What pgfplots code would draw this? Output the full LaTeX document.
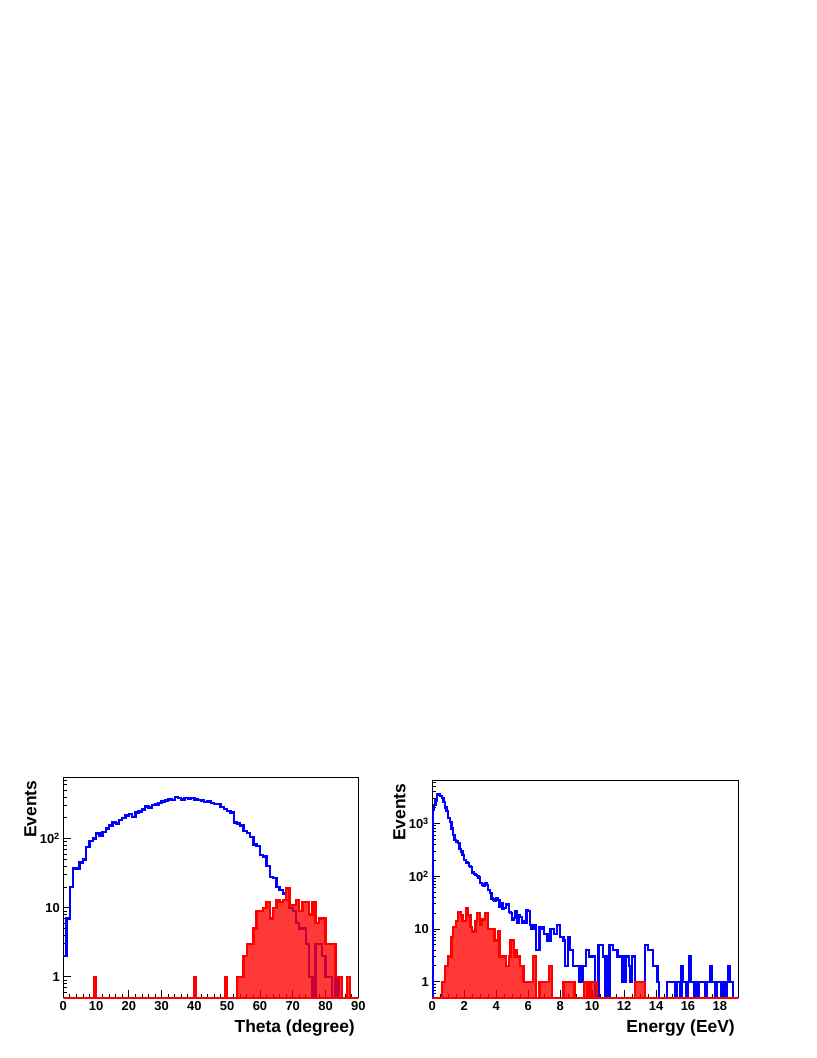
\documentclass[border=0pt]{standalone}
\usepackage{fontspec}
\setmainfont{Liberation Sans}
\usepackage{pgfplots}
\pgfplotsset{compat=1.18}

\pgfplotsset{
  rootaxis/.style={
    scale only axis, log origin y=infty, clip=false,
    ymin=0.5, xmin=0,
    axis line style={line width=0.8bp},
    tick style={line width=0.8bp, black},
    tick align=inside, xtick pos=left, ytick pos=left,
    major tick length=8bp, minor tick length=4bp,
    /pgf/number format/assume math mode=true,
    ticklabel style={font=\fontsize{13}{13}\selectfont\bfseries},
    label style={font=\fontsize{17.5}{17.5}\selectfont\bfseries},
    xlabel style={at={(rel axis cs:1,0)}, anchor=base east, yshift=-35bp},
    ylabel style={at={(rel axis cs:0,1)}, anchor=base east, yshift=27bp},
  },
  hblue/.style={const plot, color=blue, line width=2.4bp, mark=none},
  hred/.style={const plot, draw=red, line width=2.4bp, mark=none, fill=red, fill opacity=0.78, draw opacity=1},
}

\begin{document}
\begin{tikzpicture}
\path[use as bounding box] (0,0) rectangle (817bp,1058bp);

% ---------- left: theta ----------
\begin{axis}[ymode=log, rootaxis,
  at={(63.3bp,60.3bp)}, anchor=south west,
  width=295bp, height=220.4bp,
  xmax=90, ymax=770,
  xtick={0,10,...,90}, minor x tick num=4,
  ytick={1,10,100}, yticklabels={1,10,10\textsuperscript{2}},
  minor ytick={0.6,0.7,0.8,0.9,2,3,4,5,6,7,8,9,20,30,40,50,60,70,80,90,200,300,400,500,600,700},
  xlabel={Theta (degree)}, ylabel={Events},
]
\addplot[hblue] coordinates {
(0,2) (1,7) (2,20) (3,37) (4,36) (5,45) (6,50) (7,75) (8,92) (9,100)
(10,118) (11,108) (12,125) (13,140) (14,155) (15,170) (16,165) (17,185) (18,200) (19,215)
(20,225) (21,205) (22,240) (23,245) (24,265) (25,290) (26,280) (27,305) (28,310) (29,330)
(30,345) (31,355) (32,370) (33,360) (34,400) (35,385) (36,370) (37,390) (38,380) (39,385)
(40,370) (41,365) (42,355) (43,340) (44,345) (45,330) (46,315) (47,315) (48,285) (49,270)
(50,250) (51,240) (52,170) (53,165) (54,155) (55,128) (56,120) (57,105) (58,82) (59,78)
(60,58) (61,55) (62,40) (63,28) (64,27) (65,20) (66,18) (67,16) (68,13) (69,10)
(70,9) (71,6) (72,5) (73,5) (74,3) (75,1) (76,0.5) (77,3) (78,3) (79,2)
(80,1) (81,1) (82,0.5) (83,1) (84,0.5) (90,0.5)
};
\addplot[hred] coordinates {
(0,0.5) (9.5,1) (10,0.5) (40,1) (40.5,0.5) (49.5,1) (50,0.5) (53,1) (55,2) (56,3)
(57,3) (58,5) (59,9) (60,9) (61,10) (62,12) (63,7) (64,10) (65,13) (66,12)
(67,13) (68,19) (69,11) (70,11) (71,13) (72,9) (73,12) (74,12) (75,8) (76,12)
(77,6) (78,7) (79,7) (80,3) (81,3) (82,3) (83,1) (84,1) (85,0.5) (86.5,1)
(87.5,0.5) (90,0.5)
} \closedcycle;
\end{axis}

% ---------- right: energy ----------
\begin{axis}[ymode=log, rootaxis,
  at={(432.3bp,60.3bp)}, anchor=south west,
  width=306bp, height=217.7bp,
  xmax=19.15, ymax=6600,
  xtick={0,2,...,18}, minor x tick num=3,
  ytick={1,10,100,1000}, yticklabels={1,10,10\textsuperscript{2},10\textsuperscript{3}},
  minor ytick={0.6,0.7,0.8,0.9,2,3,4,5,6,7,8,9,20,30,40,50,60,70,80,90,200,300,400,500,600,700,800,900,2000,3000,4000,5000,6000},
  xlabel={Energy (EeV)}, ylabel={Events},
]
\addplot[hblue] coordinates {
(0,0.5) (0.05,1800) (0.1,2200) (0.2,2700) (0.3,3500) (0.4,3600) (0.5,3300) (0.6,3000) (0.7,2500) (0.8,2000) (0.9,1700)
(1.0,1250) (1.1,1050) (1.2,800) (1.3,600) (1.4,480) (1.5,450) (1.6,420) (1.7,330) (1.8,290) (1.9,250)
(2.0,200) (2.1,180) (2.2,175) (2.3,155) (2.4,150) (2.5,118) (2.6,110) (2.7,104) (2.8,100) (2.9,95)
(3.0,75) (3.1,70) (3.2,66) (3.3,72) (3.4,68) (3.5,55) (3.6,48) (3.7,38) (3.8,36) (3.9,34)
(4.0,38) (4.1,35) (4.2,26) (4.3,31) (4.4,24) (4.5,25) (4.6,30) (4.7,29) (4.8,21) (4.9,20)
(5.0,15) (5.1,16) (5.2,22) (5.3,13) (5.4,18) (5.5,17) (5.6,13) (5.7,14) (5.8,13) (5.9,23)
(6.0,22) (6.1,12) (6.2,10) (6.3,10) (6.4,12) (6.5,4) (6.6,4) (6.7,11) (6.8,10) (6.9,11)
(7.0,8) (7.1,8) (7.2,6) (7.3,6) (7.4,10) (7.5,10) (7.6,8) (7.7,8) (7.8,12) (7.9,12)
(8.0,7) (8.1,7) (8.2,6) (8.3,2) (8.4,2) (8.5,7) (8.6,4) (8.7,4) (8.8,2) (8.9,2)
(9.0,2) (9.1,2) (9.2,1) (9.3,1) (9.4,2) (9.5,2) (9.6,4) (9.7,4) (9.8,3) (9.9,3)
(10.0,3) (10.1,3) (10.2,0.5) (10.3,0.5) (10.4,5) (10.5,5) (10.6,5) (10.7,3) (10.8,0.5) (10.9,3)
(11.0,0.5) (11.1,5) (11.2,5) (11.3,4) (11.4,4) (11.5,4) (11.6,3) (11.7,3) (11.8,3) (11.9,1)
(12.0,1) (12.1,3) (12.2,3) (12.3,2) (12.4,1) (12.5,3) (12.6,3) (12.7,1) (12.8,1) (12.9,1)
(13.0,1) (13.1,1) (13.2,1) (13.3,5) (13.4,5) (13.5,4) (13.6,4) (13.7,4) (13.8,2) (13.9,2)
(14.0,2) (14.1,1) (14.2,0.5) (14.7,1) (15.2,0.5) (15.3,1) (15.5,0.5) (15.6,2) (15.7,1) (15.9,0.5)
(16.0,1) (16.1,3) (16.2,1) (16.4,0.5) (16.5,1) (16.6,0.5) (16.7,1) (17.1,0.5) (17.2,1) (17.4,2)
(17.5,1) (17.7,0.5) (17.8,1) (18.1,0.5) (18.2,1) (18.3,0.5) (18.4,1) (18.5,2) (18.6,1) (18.8,0.5)
(19.15,0.5)
};
\addplot[hred] coordinates {
(0,0.5) (0.6,1) (0.8,2) (1.0,3) (1.2,7) (1.3,11) (1.5,14) (1.6,21) (1.8,18) (1.9,14)
(2.1,25) (2.2,18) (2.4,11) (2.5,9) (2.7,14) (2.8,20) (3.0,12) (3.1,15) (3.3,20) (3.5,10)
(3.9,6) (4.1,9) (4.2,3) (4.6,2) (4.8,3) (4.9,6) (5.1,3) (5.2,4) (5.3,3) (5.5,2)
(5.7,1) (6.3,3) (6.5,0.5) (6.7,1) (7.3,2) (7.5,0.5) (8.2,1) (8.9,0.5) (9.5,1) (9.7,0.5)
(9.9,1) (10.3,0.5) (12.7,1) (13.3,0.5) (19.15,0.5)
} \closedcycle;
\end{axis}
\end{tikzpicture}
\end{document}
